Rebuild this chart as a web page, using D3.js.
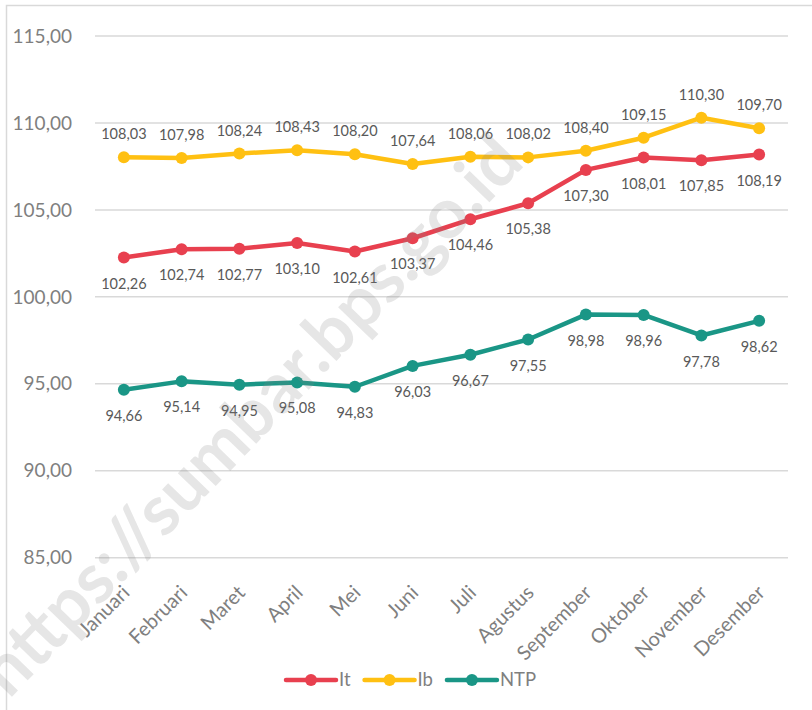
<!DOCTYPE html>
<html>
<head>
<meta charset="utf-8">
<script src="https://cdn.jsdelivr.net/npm/d3@7"></script>
<style>
  body { margin: 0; background: #fff; }
  svg { display: block; font-family: Lato, "Open Sans", sans-serif; }
</style>
</head>
<body>
<div id="chart"></div>
<script>
    // data
    var months = ["Januari", "Februari", "Maret", "April", "Mei", "Juni", "Juli",
      "Agustus", "September", "Oktober", "November", "Desember"];
    var itValues = [102.26, 102.74, 102.77, 103.10, 102.61, 103.37, 104.46, 105.38, 107.30, 108.01, 107.85, 108.19];
    var ibValues = [108.03, 107.98, 108.24, 108.43, 108.20, 107.64, 108.06, 108.02, 108.40, 109.15, 110.30, 109.70];
    var ntpValues = [94.66, 95.14, 94.95, 95.08, 94.83, 96.03, 96.67, 97.55, 98.98, 98.96, 97.78, 98.62];
    var yTicks = [85, 90, 95, 100, 105, 110, 115];

    var series = [
      { name: "It", values: itValues, color: "#E8404F", labelPos: "below" },
      { name: "Ib", values: ibValues, color: "#FFC012", labelPos: "above" },
      { name: "NTP", values: ntpValues, color: "#1A9686", labelPos: "below" }
    ];

    var W = 812, H = 710;
    var fmt = function (v) { return d3.format(".2f")(v).replace(".", ","); };

    var svg = d3.select("#chart")
      .append("svg")
      .attr("width", W)
      .attr("height", H);

    // chart border
    svg.append("rect")
      .attr("x", 6.5).attr("y", 5.5)
      .attr("width", W + 20).attr("height", H + 20)
      .attr("fill", "none")
      .attr("stroke", "#d9d9d9")
      .attr("stroke-width", 1.5);

    var x = d3.scaleBand()
      .domain(months)
      .range([95, 788]);

    var y = d3.scaleLinear()
      .domain([85, 115])
      .range([557.7, 36]);

    var cx = function (d) { return x(d) + x.bandwidth() / 2; };

    // gridlines
    svg.append("g")
      .selectAll("line")
      .data(yTicks)
      .enter()
      .append("line")
      .attr("x1", 95).attr("x2", 788)
      .attr("y1", function (d) { return y(d); })
      .attr("y2", function (d) { return y(d); })
      .attr("stroke", "#d9d9d9")
      .attr("stroke-width", 1.5);

    // y axis labels
    svg.append("g")
      .selectAll("text")
      .data(yTicks)
      .enter()
      .append("text")
      .attr("x", 72)
      .attr("y", function (d) { return y(d); })
      .attr("dy", "0.35em")
      .attr("text-anchor", "end")
      .attr("font-size", 19)
      .attr("fill", "#7f7f7f")
      .text(fmt);

    // x axis labels (rotated)
    svg.append("g")
      .selectAll("text")
      .data(months)
      .enter()
      .append("text")
      .attr("transform", function (d) { return "translate(" + (cx(d) + 2) + ",589)rotate(-45)"; })
      .attr("dy", "0.35em")
      .attr("text-anchor", "end")
      .attr("font-size", 20)
      .attr("fill", "#7f7f7f")
      .text(function (d) { return d; });

    var line = d3.line()
      .x(function (d, i) { return cx(months[i]); })
      .y(function (d) { return y(d); });

    series.forEach(function (s) {
      var g = svg.append("g");
      g.append("path")
        .datum(s.values)
        .attr("d", line)
        .attr("fill", "none")
        .attr("stroke", s.color)
        .attr("stroke-width", 4.5)
        .attr("stroke-linejoin", "round");
      g.selectAll("circle")
        .data(s.values)
        .enter()
        .append("circle")
        .attr("cx", function (d, i) { return cx(months[i]); })
        .attr("cy", function (d) { return y(d); })
        .attr("r", 6)
        .attr("fill", s.color);
    });

    // data labels
    series.forEach(function (s) {
      svg.append("g")
        .selectAll("text")
        .data(s.values)
        .enter()
        .append("text")
        .attr("x", function (d, i) { return cx(months[i]); })
        .attr("y", function (d) { return y(d) + (s.labelPos == "above" ? -23 : 26); })
        .attr("dy", "0.35em")
        .attr("text-anchor", "middle")
        .attr("font-size", 14.5)
        .attr("fill", "#595959")
        .text(fmt);
    });

    // legend
    var legend = svg.append("g").attr("transform", "translate(286,680)");
    var lx = 0;
    series.forEach(function (s) {
      var item = legend.append("g").attr("transform", "translate(" + lx + ",0)");
      item.append("line")
        .attr("x1", 0).attr("x2", 50)
        .attr("stroke", s.color)
        .attr("stroke-width", 4.5)
        .attr("stroke-linecap", "round");
      item.append("circle")
        .attr("cx", 25).attr("r", 6)
        .attr("fill", s.color);
      var t = item.append("text")
        .attr("x", 53)
        .attr("dy", "0.35em")
        .attr("font-size", 18.5)
        .attr("fill", "#7f7f7f")
        .text(s.name);
      lx += 53 + t.node().getComputedTextLength() + 14;
    });

    // watermark
    svg.append("text")
      .attr("transform", "translate(250,415)rotate(-46)")
      .attr("text-anchor", "middle")
      .attr("dy", "0.35em")
      .attr("font-size", 70)
      .attr("font-weight", "bold")
      .attr("fill", "#808080")
      .attr("fill-opacity", 0.2)
      .text("https://sumbar.bps.go.id");
</script>
</body>
</html>
